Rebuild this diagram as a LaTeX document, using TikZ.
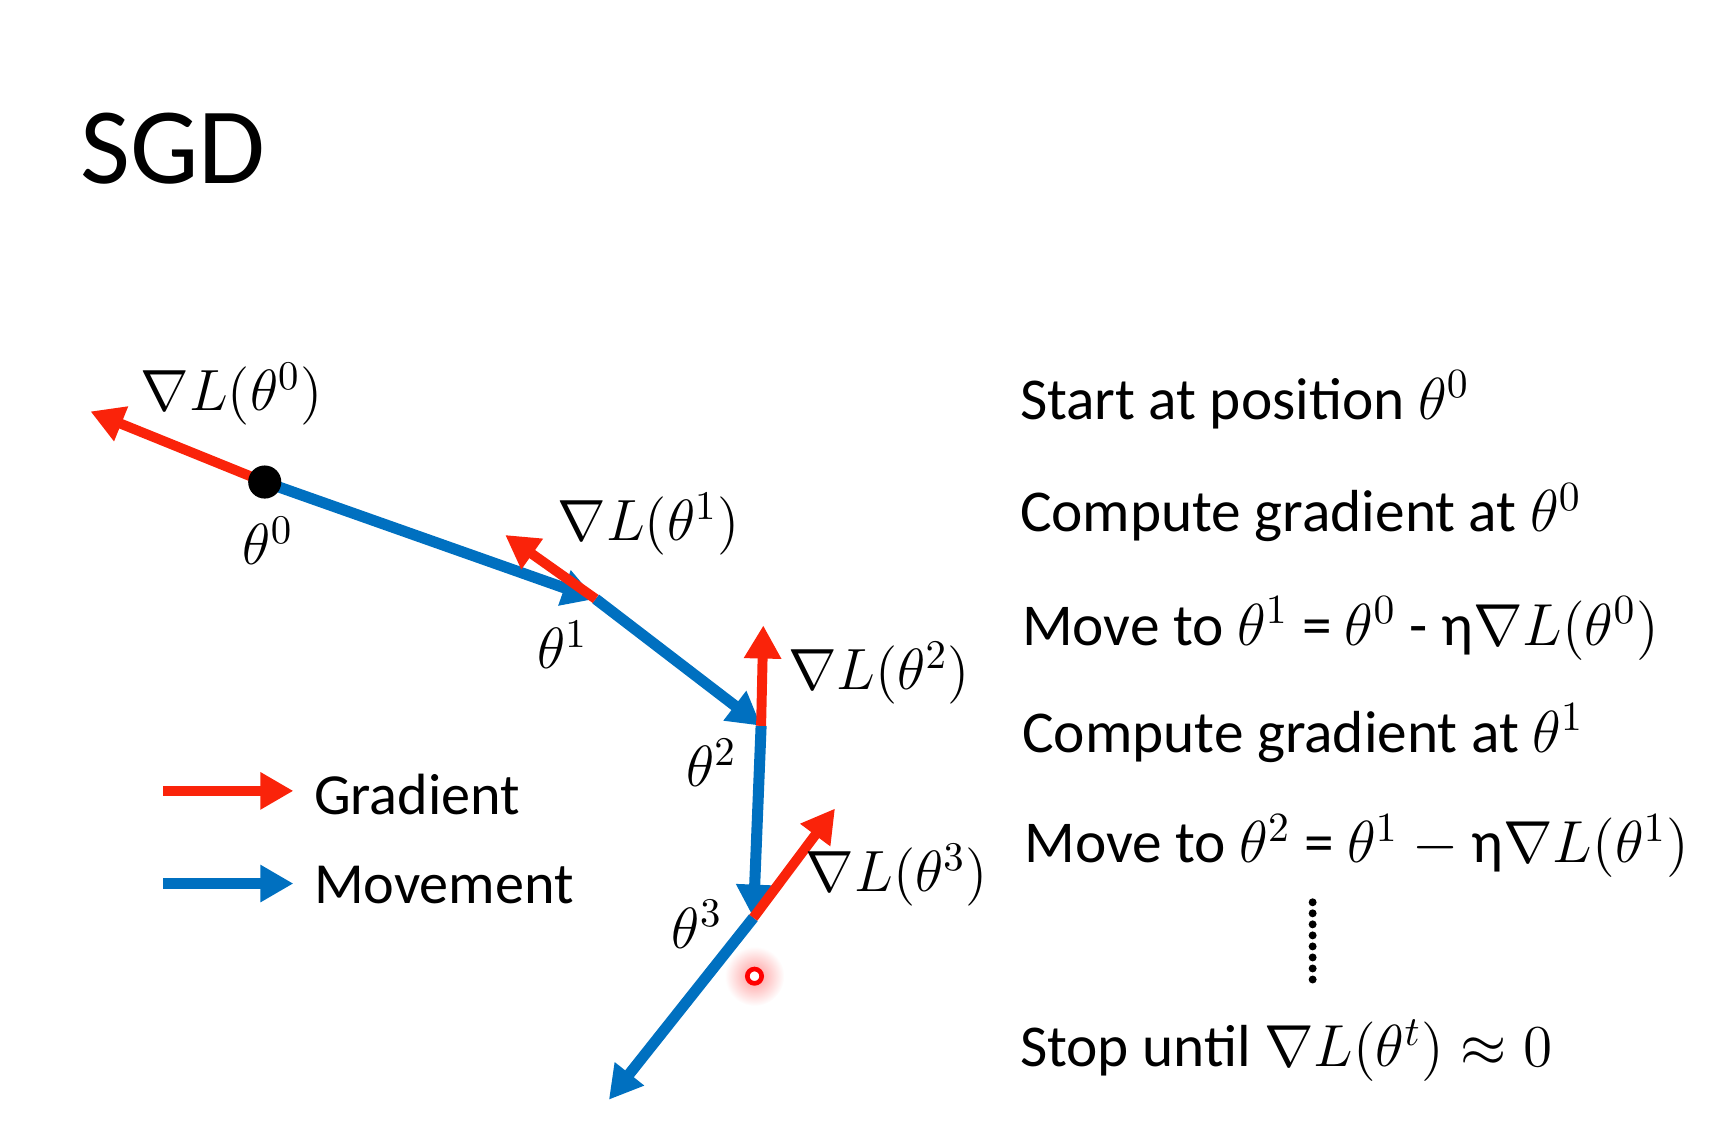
\RequirePackage{fix-cm}
\documentclass[tikz,border=0pt]{standalone}
\usepackage[no-math]{fontspec}
\setmainfont{Carlito}
\usetikzlibrary{arrows.meta}
\definecolor{gradred}{RGB}{250,35,10}
\definecolor{moveblue}{RGB}{0,112,192}

\begin{document}
\begin{tikzpicture}[x=0.01cm, y=-0.01cm,
  move/.style={draw=moveblue, line width=0.1cm, -{Triangle[length=0.3cm, width=0.32cm]}},
  grad/.style={draw=gradred, line width=0.09cm, -{Triangle[length=0.3cm, width=0.32cm]}},
  lbl/.style={font=\fontsize{15}{18}\selectfont, inner sep=0pt},
  txt/.style={font=\fontsize{15.3}{18}\selectfont, inner sep=0pt, anchor=base west}]
  \useasboundingbox (0,0) rectangle (1572,1025);

  \node[font=\fontsize{28}{32}\selectfont, anchor=west, inner sep=0pt] (title) at (72,135) {SGD};

  % points of the path
  \coordinate (t0) at (240,437);
  \coordinate (t1) at (540,543);
  \coordinate (t2) at (690,658);
  \coordinate (t3) at (683,832);
  \coordinate (t4) at (552,997);
  % tips of the gradients
  \coordinate (g0) at (82,373);
  \coordinate (g1) at (458,485);
  \coordinate (g2) at (692,567);
  \coordinate (g3) at (757,733);

  \draw[move] (t0) -- (t1);
  \draw[move] (t1) -- (t2);
  \draw[move] (t2) -- (t3);
  \draw[move] (t3) -- (t4);
  \draw[grad] (t0) -- (g0);
  \draw[grad] (t1) -- (g1);
  \draw[grad] (t2) -- (g2);
  \draw[grad] (t3) -- (g3);
  \fill (t0) circle (0.15cm);

  \node[lbl] (lg0) at (210,357) {$\nabla L(\theta^0)$};
  \node[lbl] (lt0) at (243,490) {$\theta^0$};
  \node[lbl] (lg1) at (588,475) {$\nabla L(\theta^1)$};
  \node[lbl] (lt1) at (510,585) {$\theta^1$};
  \node[lbl] (lg2) at (797,610) {$\nabla L(\theta^2)$};
  \node[lbl] (lt2) at (645,692) {$\theta^2$};
  \node[lbl] (lg3) at (813,793) {$\nabla L(\theta^3)$};
  \node[lbl] (lt3) at (632,838) {$\theta^3$};

  % mouse pointer
  \coordinate (cur) at (684,885);
  \shade[inner color=red!40, outer color=white] (cur) circle (0.27cm);
  \fill[white] (cur) circle (0.05cm);
  \draw[red, line width=1.2pt] (cur) circle (0.065cm);

  % legend
  \coordinate (a1) at (148,717);
  \coordinate (a2) at (266,717);
  \coordinate (b1) at (148,801);
  \coordinate (b2) at (266,801);
  \draw[grad] (a1) -- (a2);
  \draw[move] (b1) -- (b2);
  \node[lbl, anchor=west] (gr) at (284,720) {Gradient};
  \node[lbl, anchor=west] (mv) at (284,802) {Movement};

  % steps
  \node[txt] (s1) at (924,380) {Start at position $\theta^0$};
  \node[txt] (s2) at (924,482) {Compute gradient at $\theta^0$};
  \node[txt] (s3) at (926,585) {Move to $\theta^1$ = $\theta^0$ - η$\nabla L(\theta^0)$};
  \node[txt] (s4) at (926,682) {Compute gradient at $\theta^1$};
  \node[txt] (s5) at (928,782) {Move to $\theta^2$ = $\theta^1$ $-$ η$\nabla L(\theta^1)$};
  \foreach \k in {0,...,7}
    \fill (1190,818+10*\k) circle (0.036cm);
  \node[txt] (s6) at (924,967) {Stop until $\nabla L(\theta^t) \approx 0$};
\end{tikzpicture}
\end{document}
